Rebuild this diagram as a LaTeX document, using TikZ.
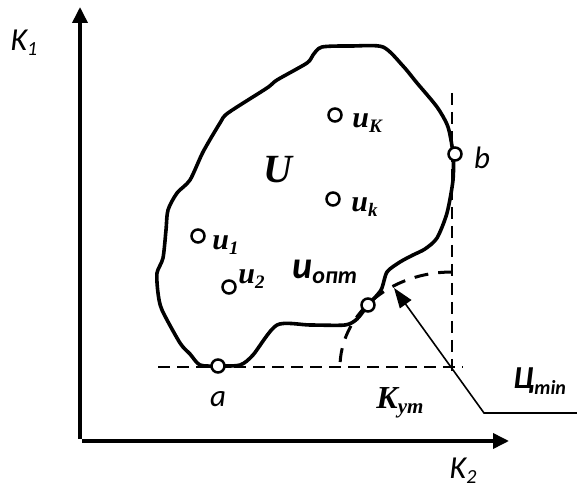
\documentclass[tikz,border=0pt]{standalone}
\usepackage{fontspec}
\setmainfont{Liberation Serif}
\newfontfamily\calib{Carlito}
\usetikzlibrary{arrows.meta}
\begin{document}
\begin{tikzpicture}[x=0.5pt,y=-0.5pt,
  axis/.style={line width=1.8pt,-{Triangle[length=8pt,width=7.5pt]}},
  guide/.style={line width=0.75pt,dash pattern=on 6pt off 3.5pt},
  arcline/.style={line width=1.5pt,dash pattern=on 7pt off 5pt},
  blob/.style={line width=1.8pt,line join=round},
  pt/.style={circle,draw,fill=white,line width=1.25pt,minimum size=6.5pt,inner sep=0pt},
  lbl/.style={inner sep=0pt},
  pointer/.style={line width=0.8pt,-{Triangle[length=10pt,width=7pt]}}]
\path[use as bounding box] (0,0) rectangle (577,490);
% axes
\coordinate (o1) at (80,439);
\coordinate (ytop) at (80,7);
\coordinate (o2) at (82,441);
\coordinate (xend) at (509,441);
\draw[axis] (o1) -- (ytop);
\draw[axis] (o2) -- (xend);
% guides
\coordinate (hl) at (158,367);
\coordinate (hr) at (463,367);
\coordinate (vt) at (452,93);
\coordinate (vb) at (452,374);
\coordinate (corner) at (452,367);
\draw[guide] (hl) -- (hr);
\draw[guide] (vt) -- (vb);
% blob
\draw[blob] plot[smooth cycle,tension=0.45] coordinates {
 (322,47) (352,46) (383,47) (403,66) (417,83) (437,107) (448,127) (453,154)
 (453,180) (447,213) (437,238) (425,249) (413,255) (400,262) (387,272)
 (381,290) (368,305) (357,319) (345,325) (310,325) (277,325) (253,355)
 (240,365) (218,366) (200,365) (190,354) (180,343) (162,310) (158,293)
 (157,273) (163,258) (166,230) (168,210) (177,193) (190,180) (203,152)
 (220,123) (228,113) (267,88) (277,80) (307,63) (313,55)};
% arc
\draw[arcline] (corner) ++(177:56pt and 47.5pt) arc[start angle=177,end angle=90,x radius=56pt,y radius=47.5pt];
% pointer
\coordinate (pend) at (577,413);
\coordinate (elbow) at (484,413);
\coordinate (tip) at (394,288);
\draw[pointer] (pend) -- (elbow) -- (tip);
% points
\node[pt] (pa) at (218,366) {};
\node[pt] (pb) at (455,154) {};
\node[pt] (popt) at (368,305) {};
\node[pt] (pK) at (335,115) {};
\node[pt] (pk) at (333,199) {};
\node[pt] (p1) at (198,236) {};
\node[pt] (p2) at (229,287) {};
% labels
\node[lbl] (K1) at (24,43) {\fontsize{16}{17}\selectfont\calib\itshape K\raisebox{-0.35ex}{\fontsize{10}{10}\selectfont 1}};
\node[lbl] (K2) at (463,471) {\fontsize{16}{17}\selectfont\calib\itshape K\raisebox{-0.35ex}{\fontsize{10}{10}\selectfont 2}};
\node[lbl] (la) at (218,399) {\fontsize{15.5}{16}\selectfont\calib\itshape a};
\node[lbl] (lb) at (482,158) {\fontsize{15.5}{16}\selectfont\calib\itshape b};
\node[lbl] (lU) at (278,170) {\fontsize{20}{21}\selectfont\bfseries\itshape U};
\node[lbl,anchor=west] (luK) at (352,123) {\fontsize{15}{16}\selectfont\bfseries\itshape u\raisebox{-0.35ex}{\fontsize{9.5}{10}\selectfont K}};
\node[lbl,anchor=west] (luk) at (351,207) {\fontsize{15}{16}\selectfont\bfseries\itshape u\raisebox{-0.35ex}{\fontsize{9.5}{10}\selectfont k}};
\node[lbl,anchor=west] (lu1) at (212,245) {\fontsize{15}{16}\selectfont\bfseries\itshape u\raisebox{-0.35ex}{\fontsize{9.5}{10}\selectfont 1}};
\node[lbl,anchor=west] (lu2) at (238,279) {\fontsize{15}{16}\selectfont\bfseries\itshape u\raisebox{-0.35ex}{\fontsize{9.5}{10}\selectfont 2}};
\node[lbl,anchor=west] (luopt) at (292,272) {\fontsize{19}{20}\selectfont\calib\bfseries\itshape u\raisebox{-0.3ex}{\fontsize{12}{12}\selectfont опт}};
\node[lbl,anchor=west] (lKut) at (376,403) {\fontsize{16}{17}\selectfont\bfseries\itshape K\raisebox{-0.35ex}{\fontsize{10.5}{11}\selectfont ут}};
\node[lbl,anchor=west] (lC) at (513,381) {\fontsize{16}{17}\selectfont\calib\bfseries\itshape Ц\raisebox{-0.35ex}{\fontsize{10}{10}\selectfont min}};
\end{tikzpicture}
\end{document}
